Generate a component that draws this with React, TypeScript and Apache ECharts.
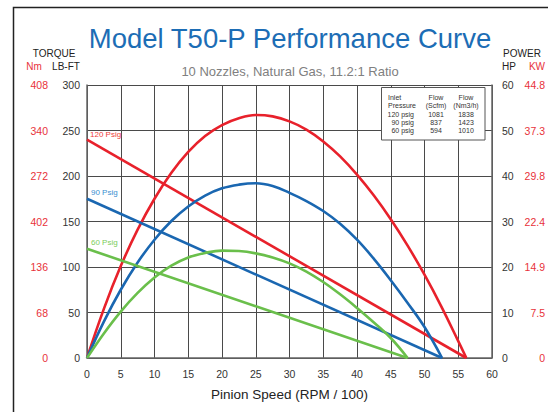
import React, { useEffect, useRef } from "react";
import * as echarts from "echarts";

// ---- data ----
const torque120: [number, number][] = [[0, 240], [56.2, 0]];
const torque90: [number, number][] = [[0, 175], [52.6, 0]];
const torque60: [number, number][] = [[0, 120], [47.5, 0]];

// power in HP (right axis)
const power120: [number, number][] = [
  [0, 0], [2.5, 10.8], [5, 20.2], [7.5, 28.2], [10, 35], [12.5, 40.7], [15, 45.3],
  [17.5, 48.8], [20, 51.2], [22.5, 52.7], [25, 53.4], [27.5, 53.1], [30, 52],
  [32.5, 50.2], [35, 47.6], [37.5, 44.3], [40, 40.3], [42.5, 35.7], [45, 30.5],
  [47.5, 24.7], [50, 18.3], [52.5, 11.3], [55, 3.7], [56.2, 0],
];
const power90: [number, number][] = [
  [0, 0], [2.5, 8], [5, 15], [7.5, 21], [10, 26], [12.5, 30.1], [15, 33.3],
  [17.5, 35.7], [20, 37.3], [22.5, 38.1], [25, 38.4], [27.5, 37.8], [30, 36.3],
  [32.5, 34.5], [35, 32.3], [37.5, 29.5], [40, 26], [42.5, 21.8], [45, 17.1],
  [47.5, 12.1], [50, 6.8], [52.6, 0],
];
const power60: [number, number][] = [
  [0, 0], [2.5, 5.4], [5, 10.2], [7.5, 14.3], [10, 17.7], [12.5, 20.3], [15, 22.1],
  [17.5, 23.1], [20, 23.6], [22.5, 23.5], [25, 23], [27.5, 22.1], [30, 20.8],
  [32.5, 19], [35, 16.7], [37.5, 14], [40, 11], [42.5, 7.8], [45, 4.4],
  [47.5, 0],
];

const nmLabels = ["0", "68", "136", "402", "272", "340", "408"];
const kwLabels = ["0", "7.5", "14.9", "22.4", "29.8", "37.3", "44.8"];

const pressures = ["120 psig", "90 psig", "60 psig"];
const flowScfm = ["1081", "837", "594"];
const flowNm3h = ["1838", "1423", "1010"];

const RED = "#e8212b";
const BLUE = "#1a67b1";
const GREEN = "#6abf4b";
const FONT = "'Liberation Sans', Arial, Helvetica, sans-serif";

function txt(text: string, x: number, y: number, size: number, fill: string, align = "center") {
  return {
    type: "text",
    x,
    y,
    z: 100,
    style: {
      text,
      fill,
      font: `${size}px ${FONT}`,
      textAlign: align,
      textVerticalAlign: "middle",
      align,
      verticalAlign: "middle",
    },
  };
}

export default function App() {
  const ref = useRef<HTMLDivElement>(null);
  useEffect(() => {
    if (!ref.current) return;
    const chart = echarts.init(ref.current, undefined, { renderer: "svg" });

    const tableRowsY = [114, 122.3, 130.7];
    const graphic: any[] = [
      {
        type: "rect",
        shape: { x: 13.5, y: 7.5, width: 600, height: 500 },
        style: { fill: "none", stroke: "#222", lineWidth: 1.5 },
        z: 0,
      },
      txt("Model T50-P Performance Curve", 290, 38, 27.5, "#1c6db5"),
      txt("10 Nozzles, Natural Gas, 11.2:1 Ratio", 290, 71, 13, "#808080"),
      txt("TORQUE", 54, 53, 10, "#222"),
      txt("Nm", 34, 66, 10, "#e8323a"),
      txt("LB-FT", 66, 66, 10, "#222"),
      txt("POWER", 522, 53, 10, "#222"),
      txt("HP", 509, 66, 10, "#222"),
      txt("KW", 537, 66, 10, "#e8323a"),
      txt("120 Psig", 90, 134, 8, "#ee3b3b", "left"),
      txt("90 Psig", 91, 192.3, 8, "#3a8fd0", "left"),
      txt("60 Psig", 91, 242.3, 8, "#7ccd5a", "left"),
      {
        type: "rect",
        shape: { x: 381.5, y: 87.5, width: 103.5, height: 52.5 },
        style: { fill: "#fff", stroke: "#555", lineWidth: 1 },
        z: 90,
      },
      txt("Inlet", 388, 97, 7, "#333", "left"),
      txt("Pressure", 388, 105.5, 7, "#333", "left"),
      txt("Flow", 436, 97, 7, "#333"),
      txt("(Scfm)", 436, 105.5, 7, "#333"),
      txt("Flow", 466, 97, 7, "#333"),
      txt("(Nm3/h)", 466, 105.5, 7, "#333"),
    ];
    pressures.forEach((p, i) => {
      graphic.push(txt(p, 414, tableRowsY[i], 7, "#333", "right"));
      graphic.push(txt(flowScfm[i], 436, tableRowsY[i], 7, "#333"));
      graphic.push(txt(flowNm3h[i], 466, tableRowsY[i], 7, "#333"));
    });

    const gridLine = { show: true, lineStyle: { color: "#4a4a4a", width: 1 } };
    const axisLine = { show: true, lineStyle: { color: "#666", width: 1.5 } };
    const lineSeries = (data: [number, number][], color: string, yAxisIndex: number, smooth: boolean) => ({
      type: "line",
      data,
      yAxisIndex,
      showSymbol: false,
      symbol: "none",
      smooth: smooth ? 0.4 : false,
      lineStyle: { color, width: 2.6 },
      itemStyle: { color },
      z: 5,
    });

    chart.setOption({
      animation: false,
      textStyle: { fontFamily: FONT },
      grid: { left: 87, right: 55, top: 85, bottom: 54, containLabel: false },
      xAxis: {
        type: "value",
        min: 0,
        max: 60,
        interval: 5,
        axisLine,
        axisTick: { show: false },
        splitLine: gridLine,
        axisLabel: { color: "#333", fontSize: 10.5, margin: 10 },
        name: "Pinion Speed (RPM / 100)",
        nameLocation: "middle",
        nameGap: 29,
        nameTextStyle: { color: "#222", fontSize: 13.5 },
      },
      yAxis: [
        {
          type: "value",
          position: "left",
          min: 0,
          max: 300,
          interval: 50,
          axisLine,
          axisTick: { show: false },
          splitLine: gridLine,
          axisLabel: { color: "#333", fontSize: 10.5, margin: 7 },
        },
        {
          type: "value",
          position: "left",
          min: 0,
          max: 300,
          interval: 50,
          axisLine: { show: false },
          axisTick: { show: false },
          splitLine: { show: false },
          axisLabel: {
            color: "#e8323a",
            fontSize: 10.5,
            margin: 39,
            formatter: (v: number) => nmLabels[Math.round(v / 50)] ?? "",
          },
        },
        {
          type: "value",
          position: "right",
          min: 0,
          max: 60,
          interval: 10,
          axisLine,
          axisTick: { show: false },
          splitLine: { show: false },
          axisLabel: { color: "#333", fontSize: 10.5, margin: 10 },
        },
        {
          type: "value",
          position: "right",
          min: 0,
          max: 60,
          interval: 10,
          axisLine: { show: false },
          axisTick: { show: false },
          splitLine: { show: false },
          axisLabel: {
            color: "#e8323a",
            fontSize: 10.5,
            margin: 53,
            align: "right",
            formatter: (v: number) => kwLabels[Math.round(v / 10)] ?? "",
          },
        },
      ],
      series: [
        lineSeries(torque120, RED, 0, false),
        lineSeries(power120, RED, 2, true),
        lineSeries(torque90, BLUE, 0, false),
        lineSeries(power90, BLUE, 2, true),
        lineSeries(torque60, GREEN, 0, false),
        lineSeries(power60, GREEN, 2, true),
      ],
      graphic,
    });
    return () => chart.dispose();
  }, []);
  return (
    <div
      ref={ref}
      style={{ position: "absolute", left: 0, top: 0, width: 548, height: 412, background: "#fff" }}
    />
  );
}
